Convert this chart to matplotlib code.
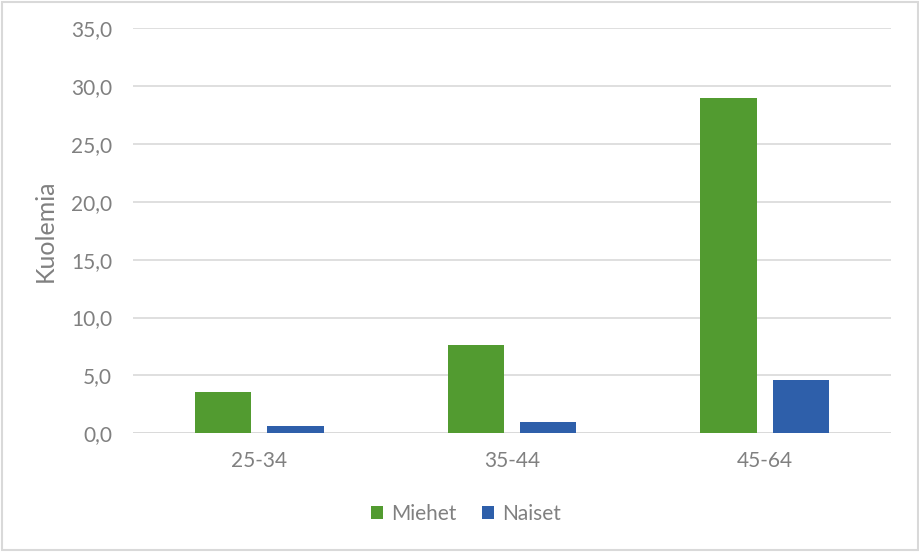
import numpy as np
import matplotlib.pyplot as plt
from matplotlib.patches import Rectangle

# Data
age_groups = ["25-34", "35-44", "45-64"]
miehet = [3.6, 7.6, 29.0]
naiset = [0.6, 1.0, 4.6]
y_ticks = [0, 5, 10, 15, 20, 25, 30, 35]

green = "#529B30"
blue = "#2E5FAA"
text_gray = "#808080"
grid_gray = "#D9D9D9"

plt.rcParams["font.family"] = ["Lato", "DejaVu Sans"]

fig = plt.figure(figsize=(9.2, 5.52), dpi=100)
ax = fig.add_axes([133 / 920, 1 - 433.3 / 552, (891 - 133) / 920, (433.3 - 28.3) / 552])

x = np.arange(len(age_groups))
w = 0.222
off = 0.143
ax.bar(x - off, miehet, width=w, color=green, label="Miehet", zorder=3)
ax.bar(x + off, naiset, width=w, color=blue, label="Naiset", zorder=3)

ax.set_xlim(-0.5, len(age_groups) - 0.5)
ax.set_ylim(0, 35)
ax.set_yticks(y_ticks)
ax.set_yticklabels([f"{v:.1f}".replace(".", ",") for v in y_ticks])
ax.set_xticks(x)
ax.set_xticklabels(age_groups)

ax.grid(axis="y", color=grid_gray, linewidth=1.2, zorder=0)
ax.tick_params(length=0, labelsize=15, labelcolor=text_gray)
ax.tick_params(axis="y", pad=15)
ax.tick_params(axis="x", pad=13)
for name, spine in ax.spines.items():
    spine.set_visible(False)
ax.axhline(0, color=grid_gray, linewidth=1.2, zorder=2)

ax.set_ylabel("Kuolemia", fontsize=18, color=text_gray, labelpad=10)

fig.legend(loc="center", bbox_to_anchor=(466 / 920, 1 - 514 / 552), ncol=2,
           frameon=False, fontsize=15, labelcolor=text_gray, handlelength=0.6,
           handleheight=0.6, handletextpad=0.4, columnspacing=1.2)

# light outer frame
fig.patches.append(Rectangle((0.002, 0.003), 0.996, 0.994, transform=fig.transFigure,
                             fill=False, edgecolor=grid_gray, linewidth=1.5))

fig.savefig("out.png", dpi=100)
plt.close(fig)
